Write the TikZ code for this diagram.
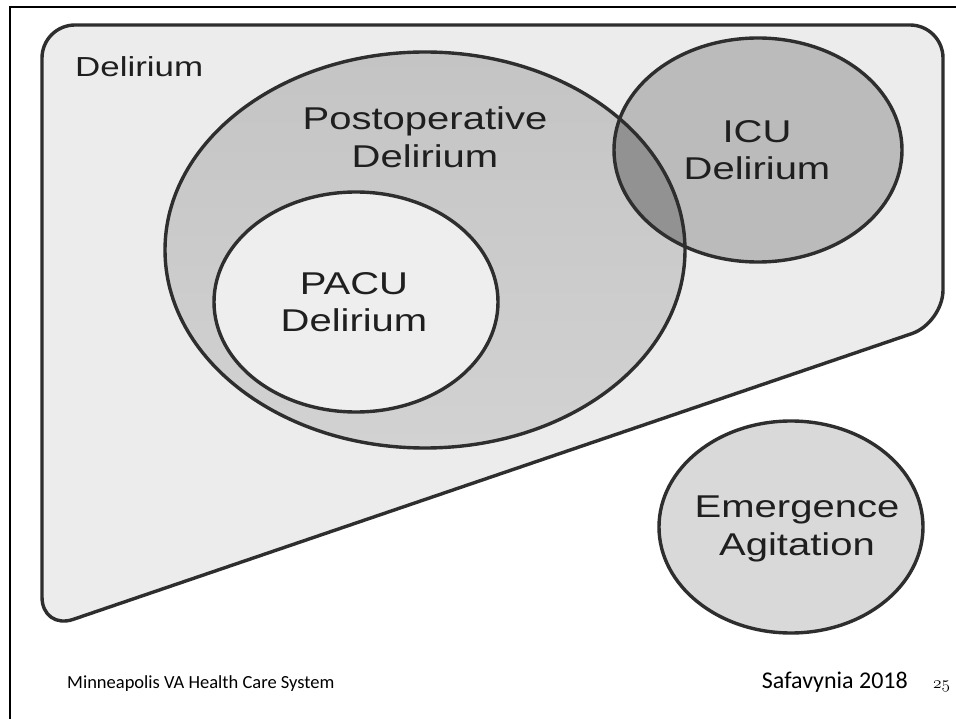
\documentclass[tikz,border=0pt]{standalone}
\usepackage{fontspec}
\newfontfamily\labfont[FakeStretch=1.27]{Liberation Sans}
\newfontfamily\footfont{Carlito}
\usetikzlibrary{shapes.geometric}
\definecolor{outerfill}{HTML}{ECECEC}
\definecolor{postfill}{HTML}{C4C4C4}
\definecolor{postlight}{HTML}{D2D2D2}
\definecolor{icufill}{HTML}{BBBBBB}
\definecolor{overlapfill}{HTML}{929292}
\definecolor{pacufill}{HTML}{EEEEEE}
\definecolor{emfill}{HTML}{D9D9D9}
\definecolor{edge}{HTML}{2E2E2E}
\tikzset{
  setline/.style={draw=edge, line width=3.4pt},
  setlabel/.style={font=\labfont\fontsize{31.5}{37.5}\selectfont, align=center, text=black!88, inner sep=0pt},
  ellnode/.style={ellipse, inner sep=0pt},
}
\begin{document}
\begin{tikzpicture}[x=1pt,y=-1pt]
\useasboundingbox (0,0) rectangle (956,719);
\fill[white] (0,0) rectangle (956,719);
% slide border
\draw[black, line width=2.4pt] (10,719) -- (10,7) -- (956,7);
% outer Delirium region
\draw[setline, fill=outerfill, rounded corners=33pt]
  (42,25) -- (943,25) -- (943,323) -- (42,630) -- cycle;
\node[setlabel, font=\labfont\fontsize{27.5}{32}\selectfont, anchor=base west] (deltxt) at (75,77) {Delirium};
% Postoperative
\node[ellnode, top color=postfill, bottom color=postlight,
      minimum width=520pt, minimum height=396pt] (post) at (425,250) {};
% ICU
\node[ellnode, fill=icufill,
      minimum width=288pt, minimum height=224pt] (icu) at (758,150) {};
% overlap
\begin{scope}
  \clip (758,150) ellipse [x radius=144, y radius=112];
  \fill[overlapfill] (425,250) ellipse [x radius=260, y radius=198];
\end{scope}
% PACU
\node[ellnode, fill=pacufill,
      minimum width=284pt, minimum height=220pt] (pacu) at (356,302) {};
% Emergence
\node[ellnode, fill=emfill, setline,
      minimum width=264pt, minimum height=212pt] (emerg) at (791,527) {};
% outlines
\draw[setline] (425,250) ellipse [x radius=260, y radius=198];
\draw[setline] (758,150) ellipse [x radius=144, y radius=112];
\draw[setline] (356,302) ellipse [x radius=142, y radius=110];
% labels
\node[setlabel] (posttxt) at (425,137) {Postoperative\\Delirium};
\node[setlabel] (icutxt) at (757,150) {ICU\\Delirium};
\node[setlabel] (pacutxt) at (354,302) {PACU\\Delirium};
\node[setlabel] (emtxt) at (797,529) {Emergence\\Agitation};
% footer
\node[font=\footfont\fontsize{18.5}{21}\selectfont, anchor=base west, inner sep=0pt] (foot1) at (67,688) {Minneapolis VA Health Care System};
\node[font=\footfont\fontsize{24}{28}\selectfont, anchor=base east, inner sep=0pt] (foot2) at (908,688) {Safavynia 2018};
\node[font=\fontsize{18}{20}\selectfont, anchor=base west, inner sep=0pt] (foot3) at (933,688) {\usefont{OML}{cmm}{m}{it}25};
\end{tikzpicture}
\end{document}
